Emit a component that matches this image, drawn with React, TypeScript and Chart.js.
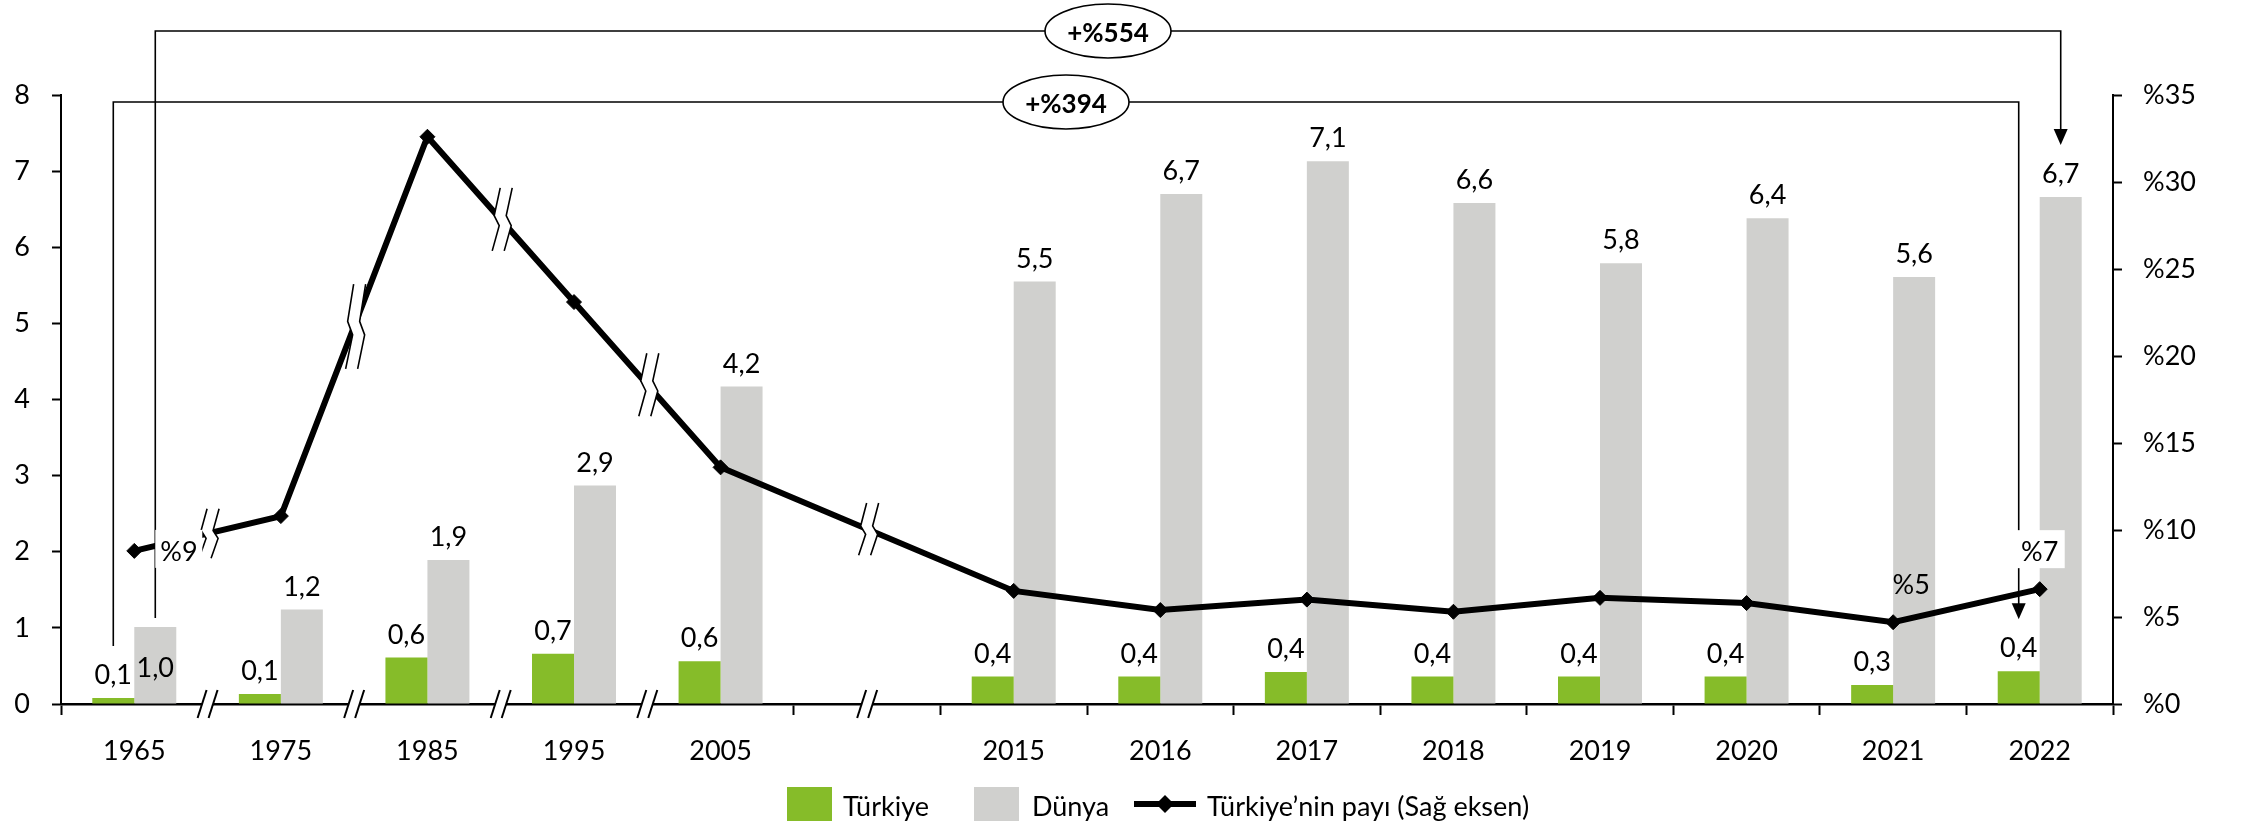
import React, { useEffect, useRef } from 'react';
import { Chart, registerables } from 'chart.js';

Chart.register(...registerables);

// ---------- DATA ----------
const categories = ['1965', '1975', '1985', '1995', '2005', '', '2015', '2016', '2017', '2018', '2019', '2020', '2021', '2022'];
const turkiye = [0.08, 0.13, 0.61, 0.66, 0.56, null, 0.36, 0.36, 0.42, 0.36, 0.36, 0.36, 0.25, 0.43];
const dunya = [1.01, 1.24, 1.89, 2.87, 4.17, null, 5.55, 6.70, 7.13, 6.58, 5.79, 6.38, 5.61, 6.66];
const share = [8.8, 10.8, 32.6, 23.1, 13.6, null, 6.5, 5.4, 6.0, 5.3, 6.1, 5.8, 4.7, 6.6];
const shareLabelIdx = [0, 12, 13];
const leftAxis = { min: 0, max: 8, step: 1 };
const rightAxis = { min: 0, max: 35, step: 5 };
const breakPositions = [0.5, 1.5, 2.5, 3.5, 5];
const growthLabels = ['+%554', '+%394'];
const legendLabels = ['Türkiye', 'Dünya', 'Türkiye’nin payı (Sağ eksen)'];

// ---------- STYLE ----------
const GREEN = '#86bc29';
const GREY = '#d0d0ce';
const FAM = 'Lato, "Open Sans", sans-serif';
const FS = 27;
const LINE_W = 6;

const fmt = (v: number) => v.toFixed(1).replace('.', ',');

function drawWavyBreak(ctx: CanvasRenderingContext2D, cx: number, cy: number, h: number) {
  const shape = [[4, -0.5], [-2, -0.06], [3, 0.1], [-4, 0.5]];
  const curve = (dx: number) => shape.map(([sx, sy]) => [cx + dx + sx, cy + sy * h]);
  const L = curve(-6), R = curve(6);
  ctx.save();
  ctx.beginPath();
  L.forEach(([x, y], i) => (i ? ctx.lineTo(x, y) : ctx.moveTo(x, y)));
  [...R].reverse().forEach(([x, y]) => ctx.lineTo(x, y));
  ctx.closePath();
  ctx.fillStyle = '#fff';
  ctx.fill();
  ctx.strokeStyle = '#000';
  ctx.lineWidth = 1.6;
  [L, R].forEach((c) => {
    ctx.beginPath();
    c.forEach(([x, y], i) => (i ? ctx.lineTo(x, y) : ctx.moveTo(x, y)));
    ctx.stroke();
  });
  ctx.restore();
}

function drawAxisBreak(ctx: CanvasRenderingContext2D, cx: number, ay: number) {
  ctx.save();
  ctx.beginPath();
  ctx.moveTo(cx - 1, ay - 14);
  ctx.lineTo(cx + 10, ay - 14);
  ctx.lineTo(cx + 1, ay + 14);
  ctx.lineTo(cx - 10, ay + 14);
  ctx.closePath();
  ctx.fillStyle = '#fff';
  ctx.fill();
  ctx.strokeStyle = '#000';
  ctx.lineWidth = 2;
  [-5.5, 5.5].forEach((dx) => {
    ctx.beginPath();
    ctx.moveTo(cx + dx - 4.5, ay + 14);
    ctx.lineTo(cx + dx + 4.5, ay - 14);
    ctx.stroke();
  });
  ctx.restore();
}

function drawBracket(ctx: CanvasRenderingContext2D, x1: number, y1: number, top: number, x2: number, tip: number, label: string) {
  ctx.save();
  ctx.strokeStyle = '#000';
  ctx.lineWidth = 1.6;
  ctx.beginPath();
  ctx.moveTo(x1, y1);
  ctx.lineTo(x1, top);
  ctx.lineTo(x2, top);
  ctx.lineTo(x2, tip - 12);
  ctx.stroke();
  ctx.beginPath();
  ctx.moveTo(x2 - 7, tip - 16);
  ctx.lineTo(x2 + 7, tip - 16);
  ctx.lineTo(x2, tip);
  ctx.closePath();
  ctx.fillStyle = '#000';
  ctx.fill();
  const mx = (x1 + x2) / 2;
  ctx.beginPath();
  ctx.ellipse(mx, top, 63, 27, 0, 0, Math.PI * 2);
  ctx.fillStyle = '#fff';
  ctx.fill();
  ctx.stroke();
  ctx.fillStyle = '#000';
  ctx.font = `bold 26px ${FAM}`;
  ctx.textAlign = 'center';
  ctx.textBaseline = 'alphabetic';
  ctx.fillText(label, mx, top + 11);
  ctx.restore();
}

const annotPlugin = {
  id: 'annot',
  afterDatasetsDraw(chart: any) {
    const ctx: CanvasRenderingContext2D = chart.ctx;
    const xs = chart.scales.x;
    const area = chart.chartArea;
    const mG = chart.getDatasetMeta(0);
    const mD = chart.getDatasetMeta(1);
    const mL = chart.getDatasetMeta(2);
    const x0 = xs.getPixelForValue(0);
    const step = xs.getPixelForValue(1) - x0;

    // breaks
    breakPositions.forEach((p) => {
      const bx = x0 + p * step;
      let a = Math.floor(p), b = Math.ceil(p);
      if (a === b) { a = p - 1; b = p + 1; }
      while (share[a] == null) a--;
      while (share[b] == null) b++;
      const pa = mL.data[a], pb = mL.data[b];
      const slope = (pb.y - pa.y) / (pb.x - pa.x);
      const by = pa.y + (bx - pa.x) * slope;
      drawWavyBreak(ctx, bx + 1.5, by, 46 + Math.abs(slope) * 15);
      drawAxisBreak(ctx, bx, area.bottom);
    });

    // bar labels
    ctx.save();
    ctx.font = `${FS}px ${FAM}`;
    ctx.fillStyle = '#000';
    ctx.textAlign = 'center';
    ctx.textBaseline = 'alphabetic';
    [[turkiye, mG], [dunya, mD]].forEach(([vals, meta]: any, di) => {
      vals.forEach((v: number | null, i: number) => {
        if (v == null) return;
        const bar = meta.data[i];
        const inside = di === 1 && i === 0;
        ctx.fillText(fmt(v), bar.x, inside ? bar.y + 50 : bar.y - 14);
      });
    });
    ctx.restore();

    // growth brackets
    const last = categories.length - 1;
    drawBracket(ctx, mD.data[0].x, mD.data[0].y - 9, 31, mD.data[last].x, mD.data[last].y - 52, growthLabels[0]);
    drawBracket(ctx, mG.data[0].x, mG.data[0].y - 52, 102, mG.data[last].x, mG.data[last].y - 52, growthLabels[1]);

    // share labels
    ctx.save();
    ctx.font = `${FS}px ${FAM}`;
    ctx.textBaseline = 'alphabetic';
    shareLabelIdx.forEach((i, k) => {
      const p = mL.data[i];
      const txt = '%' + Math.round(share[i] as number);
      ctx.fillStyle = '#fff';
      if (k === 0) {
        ctx.fillRect(p.x + 21, p.y - 21, 47, 38);
        ctx.fillStyle = '#000';
        ctx.textAlign = 'left';
        ctx.fillText(txt, p.x + 26, p.y + 10);
      } else if (k === 1) {
        ctx.fillStyle = '#000';
        ctx.textAlign = 'center';
        ctx.fillText(txt, p.x + 18, p.y - 28);
      } else {
        ctx.fillRect(p.x - 24, p.y - 59, 49, 38);
        ctx.fillStyle = '#000';
        ctx.textAlign = 'center';
        ctx.fillText(txt, p.x, p.y - 28);
      }
    });
    ctx.restore();
  },
  afterDraw(chart: any) {
    const ctx: CanvasRenderingContext2D = chart.ctx;
    const cy = 804;
    const starts = [787, 974, 1134];
    ctx.save();
    ctx.font = `${FS}px ${FAM}`;
    ctx.textBaseline = 'alphabetic';
    ctx.textAlign = 'left';
    ctx.fillStyle = GREEN;
    ctx.fillRect(starts[0], cy - 17, 45, 34);
    ctx.fillStyle = GREY;
    ctx.fillRect(starts[1], cy - 17, 45, 34);
    ctx.strokeStyle = '#000';
    ctx.lineWidth = LINE_W;
    ctx.beginPath();
    ctx.moveTo(starts[2], cy);
    ctx.lineTo(starts[2] + 62, cy);
    ctx.stroke();
    ctx.fillStyle = '#000';
    ctx.beginPath();
    const dx = starts[2] + 31;
    ctx.moveTo(dx, cy - 9);
    ctx.lineTo(dx + 9, cy);
    ctx.lineTo(dx, cy + 9);
    ctx.lineTo(dx - 9, cy);
    ctx.closePath();
    ctx.fill();
    ctx.fillText(legendLabels[0], starts[0] + 56, cy + 12);
    ctx.fillText(legendLabels[1], starts[1] + 58, cy + 12);
    ctx.fillText(legendLabels[2], starts[2] + 73, cy + 12);
    ctx.restore();
  },
};

export default function App() {
  const ref = useRef<HTMLCanvasElement>(null);
  useEffect(() => {
    document.body.style.margin = '0';
    document.body.style.overflow = 'hidden';
    const tickFont = { family: FAM, size: FS };
    const chart = new Chart(ref.current as HTMLCanvasElement, {
      type: 'bar',
      data: {
        labels: categories,
        datasets: [
          { type: 'bar', label: legendLabels[0], data: turkiye, backgroundColor: GREEN, categoryPercentage: 0.573, barPercentage: 1, yAxisID: 'y', order: 1 },
          { type: 'bar', label: legendLabels[1], data: dunya, backgroundColor: GREY, categoryPercentage: 0.573, barPercentage: 1, yAxisID: 'y', order: 1 },
          {
            type: 'line', label: legendLabels[2], data: share, yAxisID: 'y1', order: 0,
            borderColor: '#000', borderWidth: LINE_W, spanGaps: true, tension: 0,
            pointStyle: 'rectRot', pointRadius: 7.5, pointBackgroundColor: '#000', pointBorderColor: '#000', pointBorderWidth: 1,
          },
        ],
      } as any,
      options: {
        responsive: false,
        animation: false,
        layout: { padding: { top: 95, bottom: 61, left: 0, right: 0 } },
        plugins: { legend: { display: false }, tooltip: { enabled: false } },
        scales: {
          x: {
            offset: true,
            grid: {
              offset: true, drawOnChartArea: false, tickLength: 11, tickWidth: 2,
              tickColor: (c: any) => (c.index >= 1 && c.index <= 4 ? 'rgba(0,0,0,0)' : '#000'),
            },
            border: { color: '#000', width: 2.5 },
            ticks: { color: '#000', font: tickFont, padding: 20, maxRotation: 0, autoSkip: false },
            afterFit: (s: any) => { s.height = 60; },
          },
          y: {
            position: 'left', min: leftAxis.min, max: leftAxis.max,
            ticks: { stepSize: leftAxis.step, color: '#000', font: tickFont, padding: 22 },
            grid: { drawOnChartArea: false, tickLength: 9, tickWidth: 2, tickColor: '#000' },
            border: { color: '#000', width: 2 },
            afterFit: (s: any) => { s.width = 61; },
          },
          y1: {
            position: 'right', min: rightAxis.min, max: rightAxis.max,
            ticks: { stepSize: rightAxis.step, color: '#000', font: tickFont, padding: 21, callback: (v: any) => '%' + v },
            grid: { drawOnChartArea: false, tickLength: 9, tickWidth: 2, tickColor: '#000' },
            border: { color: '#000', width: 2 },
            afterFit: (s: any) => { s.width = 129; },
          },
        },
      } as any,
      plugins: [annotPlugin],
    });
    return () => chart.destroy();
  }, []);
  return (
    <div style={{ width: 2242, height: 825 }}>
      <canvas ref={ref} width={2242} height={825} style={{ display: 'block', width: 2242, height: 825 }} />
    </div>
  );
}
